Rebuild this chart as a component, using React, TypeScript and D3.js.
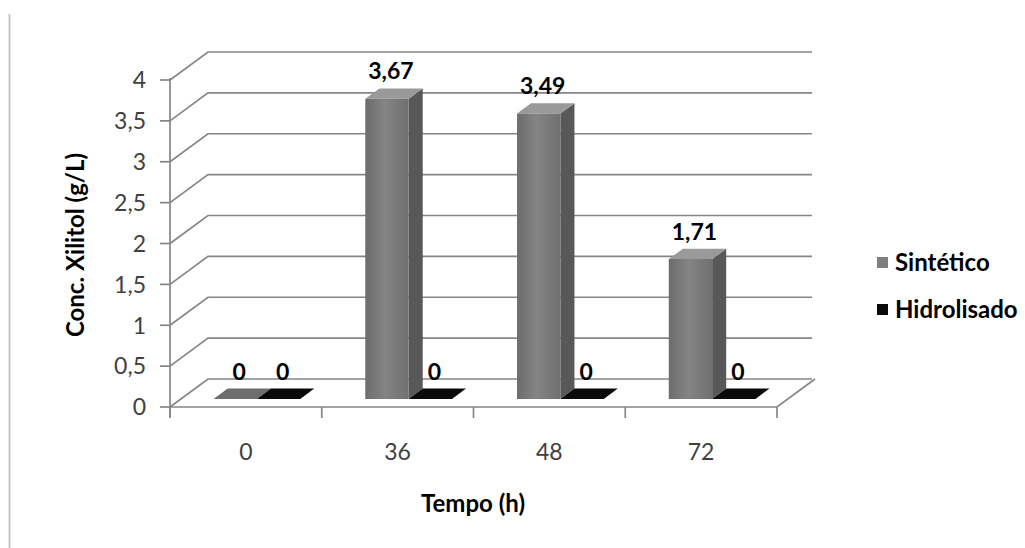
import React from "react";
import * as d3 from "d3";

// Xylitol concentration per fermentation time, two media
const categories = ["0", "36", "48", "72"];
const seriesNames = ["Sintético", "Hidrolisado"];
const sintetico = [0, 3.67, 3.49, 1.71];
const hidrolisado = [0, 0, 0, 0];
const yTicks = [0, 0.5, 1, 1.5, 2, 2.5, 3, 3.5, 4];

const W = 1025;
const H = 548;
const FONT = "Lato, 'Open Sans', sans-serif";

// oblique depth vector for the full floor depth
const DEPTH_X = 38;
const DEPTH_Y = -28;
// bar depth range within the floor
const Z0 = 0.29;
const Z1 = 0.66;

const colors = {
  Sintético: { front: "url(#grayFront)", side: "#585858", top: "#9a9a9a", slab: "#6e6e6e", legend: "#7f7f7f" },
  Hidrolisado: { front: "#111111", side: "#050505", top: "#141414", slab: "#0a0a0a", legend: "#0a0a0a" },
};

const fmt = d3.formatLocale({ decimal: ",", thousands: ".", grouping: [3], currency: ["", ""] }).format("~g");

export default function App() {
  const x = d3.scaleBand<string>().domain(categories).range([170, 777]).padding(0);
  const y = d3.scaleLinear().domain([0, 4]).range([407, 80]);
  const barW = x.bandwidth() / 3.5;
  const inner = d3.scaleBand<string>().domain(seriesNames).range([-barW, barW]).padding(0);

  const proj = (px: number, py: number, z: number): [number, number] => [px + z * DEPTH_X, py + z * DEPTH_Y];
  const poly = (pts: [number, number][]) => pts.map((p) => p.join(",")).join(" ");

  const x0 = x.range()[0];
  const x1 = x.range()[1];
  const gridColor = "#868686";

  const data = seriesNames.map((name, si) => ({
    name,
    values: si === 0 ? sintetico : hidrolisado,
  }));

  const bars: React.ReactNode[] = [];
  const labels: React.ReactNode[] = [];
  categories.forEach((cat, ci) => {
    const cx = (x(cat) as number) + x.bandwidth() / 2;
    data.forEach((s) => {
      const v = s.values[ci];
      const xl = cx + (inner(s.name) as number);
      const xr = xl + inner.bandwidth();
      const yb = y(0);
      const yt = y(v);
      const c = (colors as any)[s.name];
      const key = `${cat}-${s.name}`;
      if (v > 0) {
        bars.push(
          <g key={key}>
            <polygon points={poly([proj(xr, yb, Z0), proj(xr, yb, Z1), proj(xr, yt, Z1), proj(xr, yt, Z0)])} fill={c.side} />
            <polygon points={poly([proj(xl, yt, Z0), proj(xr, yt, Z0), proj(xr, yt, Z1), proj(xl, yt, Z1)])} fill={c.top} />
            <polygon points={poly([proj(xl, yb, Z0), proj(xr, yb, Z0), proj(xr, yt, Z0), proj(xl, yt, Z0)])} fill={c.front} />
          </g>
        );
      } else {
        bars.push(
          <polygon key={key} points={poly([proj(xl, yb, Z0), proj(xr, yb, Z0), proj(xr, yb, Z1), proj(xl, yb, Z1)])} fill={c.slab} />
        );
      }
      const lx = proj((xl + xr) / 2 + 4, yt, Z0)[0];
      const ly = proj(0, yt, Z1)[1];
      labels.push(
        <text key={`l-${key}`} x={lx} y={ly - 9} textAnchor="middle" fontFamily={FONT} fontWeight={700} fontSize={23} fill="#000">
          {fmt(v)}
        </text>
      );
    });
  });

  return (
    <svg width={W} height={H} style={{ position: "absolute", left: 0, top: 0, background: "#fff" }}>
      <defs>
        <linearGradient id="grayFront" x1="0" x2="1" y1="0" y2="0">
          <stop offset="0" stopColor="#6c6c6c" />
          <stop offset="0.45" stopColor="#848484" />
          <stop offset="1" stopColor="#707070" />
        </linearGradient>
      </defs>
      <rect x={0} y={0} width={W} height={H} fill="#fff" />
      <line x1={9.5} x2={9.5} y1={14} y2={H} stroke="#c8c8c8" strokeWidth={2} />

      {/* side wall and back wall gridlines */}
      {yTicks.map((t) => {
        const yy = y(t);
        const [bx, by] = proj(x0, yy, 1);
        const [ex] = proj(x1, yy, 1);
        return (
          <polyline key={`g-${t}`} points={poly([[x0, yy], [bx, by], [ex - 3, by]])} fill="none" stroke={gridColor} strokeWidth={1.7} />
        );
      })}

      {/* floor front and right edges */}
      <polyline points={poly([[x0, y(0)], [x1, y(0)], proj(x1, y(0), 1)])} fill="none" stroke={gridColor} strokeWidth={1.7} />

      {/* value axis */}
      <line x1={x0} x2={x0} y1={y(4) - 2} y2={y(0) + 10} stroke={gridColor} strokeWidth={1.7} />
      {yTicks.map((t) => (
        <g key={`t-${t}`}>
          <line x1={x0 - 10} x2={x0} y1={y(t)} y2={y(t)} stroke={gridColor} strokeWidth={1.7} />
          <text x={146} y={y(t)} dy="0.36em" textAnchor="end" fontFamily={FONT} fontSize={23} fill="#404040">
            {fmt(t)}
          </text>
        </g>
      ))}

      {/* category ticks and labels */}
      {[...categories.map((c) => x(c) as number), x1].map((tx, i) => (
        <line key={`ct-${i}`} x1={tx} x2={tx} y1={y(0)} y2={y(0) + 11} stroke={gridColor} strokeWidth={1.7} />
      ))}
      {categories.map((c) => (
        <text key={`cl-${c}`} x={(x(c) as number) + x.bandwidth() / 2} y={460} textAnchor="middle" fontFamily={FONT} fontSize={23} fill="#404040">
          {c}
        </text>
      ))}

      {bars}
      {labels}

      {/* axis titles */}
      <text x={473} y={512} textAnchor="middle" fontFamily={FONT} fontWeight={700} fontSize={24} fill="#000">
        Tempo (h)
      </text>
      <text transform="translate(84,245) rotate(-90)" textAnchor="middle" fontFamily={FONT} fontWeight={700} fontSize={24} fill="#000">
        Conc. Xilitol (g/L)
      </text>

      {/* legend */}
      {seriesNames.map((n, i) => (
        <g key={`lg-${n}`} transform={`translate(877, ${257 + i * 47})`}>
          <rect x={0} y={0} width={11} height={11} fill={(colors as any)[n].legend} />
          <text x={18} y={5.5} dy="0.36em" fontFamily={FONT} fontWeight={700} fontSize={24} fill="#000">
            {n}
          </text>
        </g>
      ))}
    </svg>
  );
}
